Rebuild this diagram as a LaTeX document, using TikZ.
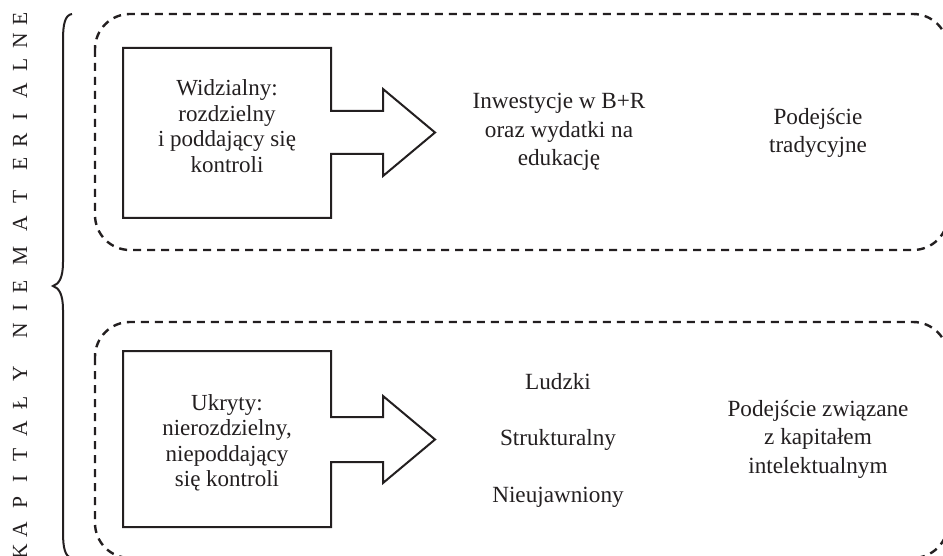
\documentclass[tikz,border=0pt]{standalone}
\usepackage{fontspec}
\setmainfont{Liberation Serif}
\definecolor{ink}{RGB}{35,31,32}
\begin{document}
\begin{tikzpicture}[x=1pt,y=-1pt,
  dashbox/.style={draw=ink, line width=2.4pt, dash pattern=on 8pt off 6pt, rounded corners=35pt},
  arrowbox/.style={draw=ink, line width=2pt, line join=miter},
  lefttxt/.style={align=center, text=ink, font=\fontsize{23}{25.5}\selectfont},
  midtxt/.style={align=center, text=ink, font=\fontsize{23.2}{28.5}\selectfont},
  vletter/.style={rotate=90, text=ink, font=\fontsize{21.5}{24}\selectfont, inner sep=0pt},
  bracestyle/.style={draw=ink, line width=2pt}]
\useasboundingbox (0,0) rectangle (943,556);
\clip (0,0) rectangle (943,556);
\fill[white] (0,0) rectangle (943,556);

% dashed frames
\draw[dashbox] (95,14) rectangle (948,250);
\draw[dashbox] (95,322) rectangle (948,558);

% box + arrow shapes
\draw[arrowbox] (123,48) -- (331,48) -- (331,111) -- (383,111) -- (383,89) -- (435,132.5)
  -- (383,176) -- (383,154) -- (331,154) -- (331,218) -- (123,218) -- cycle;
\draw[arrowbox] (123,351) -- (331,351) -- (331,417) -- (383,417) -- (383,396) -- (435,439.5)
  -- (383,483) -- (383,462) -- (331,462) -- (331,527) -- (123,527) -- cycle;

% texts top
\node[lefttxt] (vis) at (227,126) {Widzialny:\\rozdzielny\\i poddający się\\kontroli};
\node[midtxt] (inv) at (559,132) {Inwestycje w B+R\\oraz wydatki na\\edukację};
\node[midtxt] (trad) at (818,133) {Podejście\\tradycyjne};

% texts bottom
\node[lefttxt] (hid) at (227,443) {Ukryty:\\nierozdzielny,\\niepoddający\\się kontroli};
\node[text=ink, font=\fontsize{23.2}{24}\selectfont] (lud) at (558,382) {Ludzki};
\node[text=ink, font=\fontsize{23.2}{24}\selectfont] (str) at (558,440) {Strukturalny};
\node[text=ink, font=\fontsize{23.2}{24}\selectfont] (nie) at (558,497) {Nieujawniony};
\node[midtxt] (ic) at (818,439) {Podejście związane\\z kapitałem\\intelektualnym};

% brace
\draw[bracestyle] (72,14) .. controls (65,15) and (63,24) .. (63,40) -- (63,262)
  .. controls (63,278) and (59,284) .. (53,286)
  .. controls (59,288) and (63,294) .. (63,310) -- (63,532)
  .. controls (63,548) and (65,557) .. (72,558);

% vertical spaced title
\foreach \l/\yy [count=\i] in {K/552,A/530,P/503,I/479,T/455,A/429,Ł/403,Y/374,
  N/331,I/308,E/287,M/256,A/224,T/197,E/164,R/140,I/117,A/91,L/65,N/41,E/19}
  \node[vletter] (t\i) at (20,\yy) {\l};
\end{tikzpicture}
\end{document}
